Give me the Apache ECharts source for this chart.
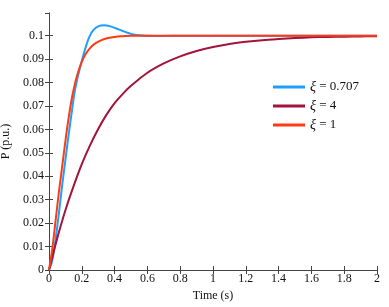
<!DOCTYPE html>
<html><head><meta charset="utf-8">
<script src="https://cdn.jsdelivr.net/npm/echarts@6/dist/echarts.min.js"></script>
<style>html,body{margin:0;padding:0;background:#fff}#c{width:389px;height:307px}</style>
</head><body><div id="c"></div>
<script>
const xTicks = [0, 0.2, 0.4, 0.6, 0.8, 1, 1.2, 1.4, 1.6, 1.8, 2];
const seriesNames = ['ξ = 0.707', 'ξ = 4', 'ξ = 1'];
const colors = ['#1E9FFF', '#A3133A', '#FF3B14'];

const tBlue = [0, 0.02, 0.04, 0.06, 0.08, 0.10, 0.12, 0.14, 0.155, 0.17, 0.185, 0.20, 0.215, 0.23, 0.246, 0.27, 0.30, 0.335, 0.37, 0.41, 0.45, 0.50, 0.55, 0.60, 0.70, 0.8, 1.0, 1.5, 2.0];
const vBlue = [0, 0.004, 0.013, 0.024, 0.036, 0.047, 0.058, 0.068, 0.0755, 0.0808, 0.0852, 0.0893, 0.093, 0.0965, 0.0995, 0.1024, 0.104, 0.1045, 0.1041, 0.1031, 0.102, 0.1008, 0.1002, 0.1, 0.0999, 0.1, 0.1, 0.1, 0.1];

const tDark = [0, 0.05, 0.1, 0.15, 0.2, 0.25, 0.3, 0.35, 0.4, 0.45, 0.5, 0.6, 0.7, 0.8, 0.9, 1.0, 1.1, 1.2, 1.3, 1.4, 1.5, 1.6, 1.7, 1.8, 1.9, 2.0];
const vDark = [0, 0.0135, 0.0255, 0.0358, 0.0452, 0.0532, 0.0602, 0.0662, 0.0712, 0.0752, 0.0786, 0.0842, 0.0882, 0.0912, 0.0935, 0.0952, 0.0965, 0.0974, 0.0981, 0.0986, 0.099, 0.0993, 0.0995, 0.0996, 0.0997, 0.0998];

const tRed = [0, 0.02, 0.04, 0.06, 0.08, 0.10, 0.12, 0.14, 0.16, 0.18, 0.20, 0.22, 0.25, 0.28, 0.32, 0.36, 0.40, 0.45, 0.50, 0.6, 0.8, 1.0, 1.5, 2.0];
const vRed = [0, 0.009, 0.021, 0.033, 0.044, 0.055, 0.065, 0.0735, 0.0800, 0.0850, 0.0888, 0.0918, 0.0947, 0.0966, 0.0981, 0.099, 0.0995, 0.0998, 0.1, 0.1, 0.1, 0.1, 0.1, 0.1];

function pairs(t, v) { return t.map((x, i) => [x, v[i]]); }

const font = 'Liberation Serif';
const axisCol = '#444';
const chart = echarts.init(document.getElementById('c'));
const mkLine = (name, t, v, c, z) => ({
  name, type: 'line', data: pairs(t, v), smooth: 0.4, showSymbol: false,
  lineStyle: { color: c, width: 2 }, itemStyle: { color: c }, z
});
chart.setOption({
  animation: false,
  grid: { left: 49, right: 12, top: 13, bottom: 37, outerBoundsMode: 'none', containLabel: false },
  legend: {
    orient: 'vertical', left: 268, top: 75, itemGap: 5,
    itemWidth: 32, itemHeight: 3, icon: 'rect',
    data: seriesNames,
    formatter: n => '{i|ξ}' + n.slice(1),
    textStyle: { fontFamily: font, fontSize: 13, color: '#111',
      rich: { i: { fontStyle: 'italic', fontFamily: font, fontSize: 14, color: '#111' } } }
  },
  xAxis: [
    { type: 'value', min: 0, max: 2, interval: 0.2, position: 'bottom',
      name: 'Time (s)', nameLocation: 'middle', nameGap: 16,
      nameTextStyle: { fontFamily: font, fontSize: 12, color: '#111' },
      axisLine: { lineStyle: { color: axisCol, width: 1 } },
      axisTick: { inside: true, length: 4, lineStyle: { color: axisCol } },
      axisLabel: { fontFamily: font, fontSize: 12, color: '#111', margin: 3 },
      splitLine: { show: false } },
    { type: 'value', min: 0, max: 2, interval: 0.2, position: 'top',
      axisLine: { lineStyle: { color: axisCol, width: 1 } },
      axisTick: { inside: true, length: 4, lineStyle: { color: axisCol } },
      axisLabel: { show: false }, splitLine: { show: false } }
  ],
  yAxis: [
    { type: 'value', min: 0, max: 0.1097, interval: 0.01, position: 'left',
      name: 'P (p.u.)', nameLocation: 'middle', nameGap: 33, nameRotate: 90,
      nameTextStyle: { fontFamily: font, fontSize: 12, color: '#111' },
      axisLine: { lineStyle: { color: axisCol, width: 1 } },
      axisTick: { inside: true, length: 4, lineStyle: { color: axisCol } },
      axisLabel: { fontFamily: font, fontSize: 12, color: '#111', margin: 5, showMaxLabel: false,
        formatter: v => (v > 0.1001 ? '' : String(+v.toFixed(2))) },
      splitLine: { show: false } },
    { type: 'value', min: 0, max: 0.1097, interval: 0.01, position: 'right',
      axisLine: { lineStyle: { color: axisCol, width: 1 } },
      axisTick: { inside: true, length: 4, lineStyle: { color: axisCol } },
      axisLabel: { show: false }, splitLine: { show: false } }
  ],
  series: [
    mkLine(seriesNames[0], tBlue, vBlue, colors[0], 2),
    mkLine(seriesNames[1], tDark, vDark, colors[1], 3),
    mkLine(seriesNames[2], tRed, vRed, colors[2], 4)
  ]
});
</script></body></html>
